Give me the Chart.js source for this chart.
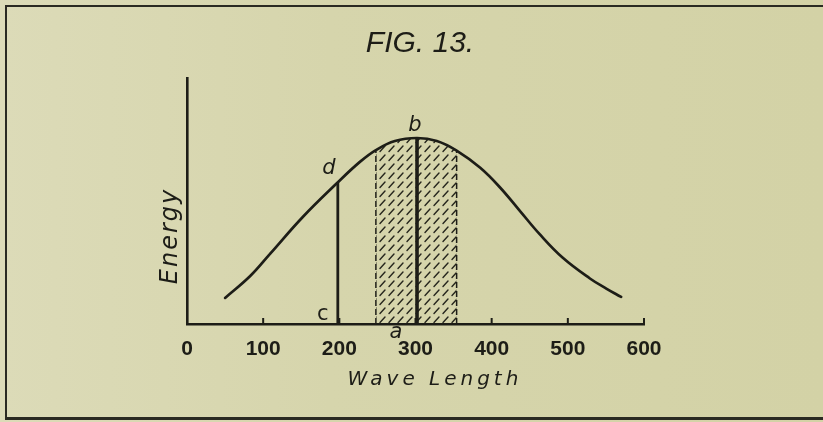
<!DOCTYPE html>
<html><head><meta charset="utf-8">
<script src="https://cdn.jsdelivr.net/npm/chart.js@4.4.1/dist/chart.umd.min.js"></script>
<style>
html,body{margin:0;padding:0;}
body{width:823px;height:422px;overflow:hidden;position:relative;
  background:linear-gradient(to right,#dcdbb8 0%,#d6d5ac 40%,#d3d2a6 100%);}
#frame{position:absolute;left:5px;top:5px;width:818px;height:415px;box-sizing:border-box;
  border-top:2px solid #2a2a22;border-left:2px solid #2a2a22;border-bottom:3px solid #2a2a22;}
#wrap{position:absolute;left:0;top:0;width:823px;height:422px;}
</style></head><body>
<div id="frame"></div>
<div id="wrap"><canvas id="c" width="823" height="422"></canvas></div>
<script>
// ---- data ----
const waveLength = [50, 83, 109, 152, 197, 227, 248, 273, 302, 328, 354, 385, 411, 437, 463, 493, 529, 551, 570];
const energy     = [10.6, 19.5, 28.5, 43.5, 57.3, 65.9, 70.7, 74.4, 75.6, 74.4, 70.5, 63.5, 55.5, 46.0, 36.5, 27, 18.5, 14.3, 11];
const xTickValues = [0, 100, 200, 300, 400, 500, 600];
const xTickLabels = ['0', '100', '200', '300', '400', '500', '600'];
const bandStart = 248;
const bandEnd = 354;
const ordinateCD = [198, 57.5];   // wave length, energy at d
const ordinateAB = [302, 75.6];   // wave length, energy at b
const bandEdgeEnergy = [70.7, 70.5];
const titleText = 'FIG. 13.';
const xTitle = 'Wave Length';
const yTitle = 'Energy';

const ink = '#1d1d17';
const curvePts = waveLength.map((w, i) => ({x: w, y: energy[i]}));
const bandPts = curvePts.filter(p => p.x >= bandStart && p.x <= bandEnd);

// hatch pattern
const pc = document.createElement('canvas');
pc.width = 9; pc.height = 9;
const pctx = pc.getContext('2d');
pctx.strokeStyle = '#26261d';
pctx.lineWidth = 1.4;
pctx.lineCap = 'round';
pctx.beginPath(); pctx.moveTo(2, 7.5); pctx.lineTo(7, 2); pctx.stroke();
const hatch = document.getElementById('c').getContext('2d').createPattern(pc, 'repeat');

const textPlugin = {
  id: 'texts',
  afterDraw(chart) {
    const {ctx, scales: {x, y}} = chart;
    const y0 = y.getPixelForValue(0);
    ctx.save();
    ctx.strokeStyle = ink; ctx.lineWidth = 2;
    xTickValues.forEach(v => {
      if (v === 0) return;
      const px = x.getPixelForValue(v);
      ctx.beginPath(); ctx.moveTo(px, y0); ctx.lineTo(px, y0 - 6); ctx.stroke();
    });
    ctx.fillStyle = ink;
    ctx.textAlign = 'center';
    ctx.textBaseline = 'middle';
    // title
    ctx.font = 'italic 30px "Liberation Sans", sans-serif';
    ctx.fillText(titleText, 420, 44);
    // axis titles
    ctx.font = 'oblique 20px "DejaVu Sans", sans-serif';
    ctx.letterSpacing = '4px';
    ctx.fillText(xTitle, 435, 380);
    ctx.save();
    ctx.translate(171, 236);
    ctx.rotate(-Math.PI / 2);
    ctx.letterSpacing = '2px';
    ctx.font = 'oblique 24px "DejaVu Sans", sans-serif';
    ctx.fillText(yTitle, 0, 0);
    ctx.restore();
    ctx.letterSpacing = '0px';
    // point letters
    ctx.font = 'oblique 21px "DejaVu Sans", sans-serif';
    const cdx = x.getPixelForValue(ordinateCD[0]);
    const cdy = y.getPixelForValue(ordinateCD[1]);
    const abx = x.getPixelForValue(ordinateAB[0]);
    const aby = y.getPixelForValue(ordinateAB[1]);
    ctx.fillText('d', cdx - 9, cdy - 14);
    ctx.font = '21px "DejaVu Sans", sans-serif';
    ctx.fillText('c', cdx - 15, y0 - 9);
    ctx.font = 'oblique 21px "DejaVu Sans", sans-serif';
    ctx.fillText('b', abx - 2, aby - 12);
    ctx.fillText('a', abx - 21, y0 + 9);
    ctx.restore();
  }
};

new Chart(document.getElementById('c'), {
  type: 'line',
  data: {
    datasets: [
      { data: curvePts, borderColor: ink, borderWidth: 2.7, pointRadius: 0, fill: false,
        tension: 0.4, borderCapStyle: 'round', order: 0 },
      { data: [{x: ordinateAB[0], y: 0}, {x: ordinateAB[0], y: ordinateAB[1]}],
        borderColor: ink, borderWidth: 3.6, pointRadius: 0, fill: false, order: 1 },
      { data: [{x: ordinateCD[0], y: 0}, {x: ordinateCD[0], y: ordinateCD[1]}],
        borderColor: ink, borderWidth: 2.8, pointRadius: 0, fill: false, order: 2 },
      { data: [{x: bandStart, y: 0}, {x: bandStart, y: bandEdgeEnergy[0]}],
        borderColor: ink, borderWidth: 1.5, borderDash: [6, 3], pointRadius: 0, fill: false, order: 3 },
      { data: [{x: bandEnd, y: 0}, {x: bandEnd, y: bandEdgeEnergy[1]}],
        borderColor: ink, borderWidth: 1.5, borderDash: [6, 3], pointRadius: 0, fill: false, order: 4 },
      { data: bandPts, borderWidth: 0, pointRadius: 0, fill: 'origin', backgroundColor: hatch,
        tension: 0.4, order: 5 }
    ]
  },
  options: {
    responsive: false,
    animation: false,
    layout: { padding: { top: 78, right: 179, left: 0, bottom: 0 } },
    plugins: { legend: { display: false }, tooltip: { enabled: false } },
    scales: {
      x: {
        type: 'linear', min: 0, max: 600,
        afterFit: s => { s.height = 98; },
        afterBuildTicks: s => { s.ticks = xTickValues.map(v => ({value: v})); },
        ticks: {
          callback: v => xTickLabels[xTickValues.indexOf(v)],
          font: { family: '"Liberation Sans", sans-serif', size: 21, weight: 'bold' },
          color: ink, padding: 13, maxRotation: 0, autoSkip: false
        },
        grid: { display: false, drawTicks: false },
        border: { display: true, color: ink, width: 2.6 }
      },
      y: {
        min: 0, max: 100,
        afterFit: s => { s.width = 187; },
        ticks: { display: false },
        grid: { display: false, drawTicks: false },
        border: { display: true, color: ink, width: 2.6 }
      }
    }
  },
  plugins: [textPlugin]
});
</script>
</body></html>
